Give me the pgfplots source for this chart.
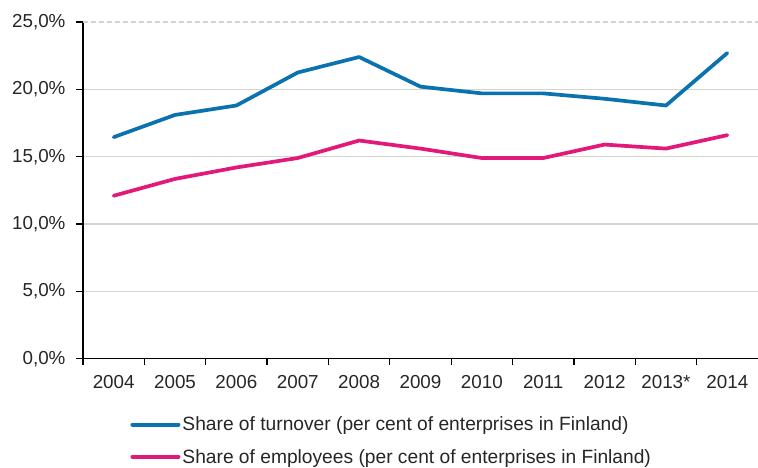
\documentclass[border=0pt]{standalone}
\usepackage{fontspec}
\setmainfont{Liberation Sans}
\usepackage{pgfplots}
\pgfplotsset{compat=1.18}
\definecolor{turnblue}{RGB}{10,114,174}
\definecolor{emppink}{RGB}{226,24,122}
\definecolor{gridgray}{RGB}{210,213,206}
\begin{document}
\begin{tikzpicture}
\path[use as bounding box] (0,0) rectangle (758pt,467pt);
\begin{axis}[
  at={(83pt,108.3pt)}, anchor=south west,
  scale only axis, width=675pt, height=336.7pt,
  xmin=-0.5, xmax=10.5, ymin=0, ymax=25,
  axis lines=left, axis line style={line width=1.2pt, black, -},
  xtick={0,...,10},
  xticklabels={2004,2005,2006,2007,2008,2009,2010,2011,2012,2013*,2014},
  minor xtick={-0.5,0.5,...,9.5},
  major x tick style={draw=none},
  minor x tick style={line width=1.2pt, black},
  minor tick length=6pt,
  ytick={0,5,10,15,20},
  extra y ticks={25},
  extra y tick style={grid style={gridgray, line width=1.2pt, dash pattern=on 5pt off 3pt}},
  y tick style={line width=1.2pt, black},
  major tick length=7pt,
  tick align=outside,
  ymajorgrids,
  grid style={gridgray, line width=1.2pt},
  yticklabel={\pgfmathprintnumber[fixed,fixed zerofill,precision=1,use comma]{\tick}\%},
  /pgf/number format/assume math mode=true,
  tick label style={font=\fontsize{18.8}{22}\selectfont, text=black!85},
  xticklabel style={yshift=-6pt},
  yticklabel style={xshift=-7pt},
  legend style={at={(rel axis cs:0.07,-0.172)}, anchor=north west, draw=none, fill=none,
    inner sep=0pt, row sep=17pt, font=\fontsize{19.2}{22}\selectfont,
    nodes={inner sep=0pt, anchor=west, text=black!85}},
  legend cell align=left,
  legend image code/.code={\draw[#1, line width=4pt] (0pt,0pt) -- (46pt,0pt);},
  every axis plot/.append style={line width=3.7pt, line join=round, line cap=round},
  clip=false,
]
\addplot[turnblue, mark=none] coordinates {
 (0,16.45) (1,18.1) (2,18.8) (3,21.25) (4,22.4) (5,20.2) (6,19.7) (7,19.7) (8,19.3) (9,18.8) (10,22.7)};
\addlegendentry{\hspace{2pt}Share of turnover (per cent of enterprises in Finland)}
\addplot[emppink, mark=none] coordinates {
 (0,12.1) (1,13.35) (2,14.2) (3,14.9) (4,16.2) (5,15.6) (6,14.9) (7,14.9) (8,15.9) (9,15.6) (10,16.6)};
\addlegendentry{\hspace{2pt}Share of employees (per cent of enterprises in Finland)}
\end{axis}
\end{tikzpicture}
\end{document}
